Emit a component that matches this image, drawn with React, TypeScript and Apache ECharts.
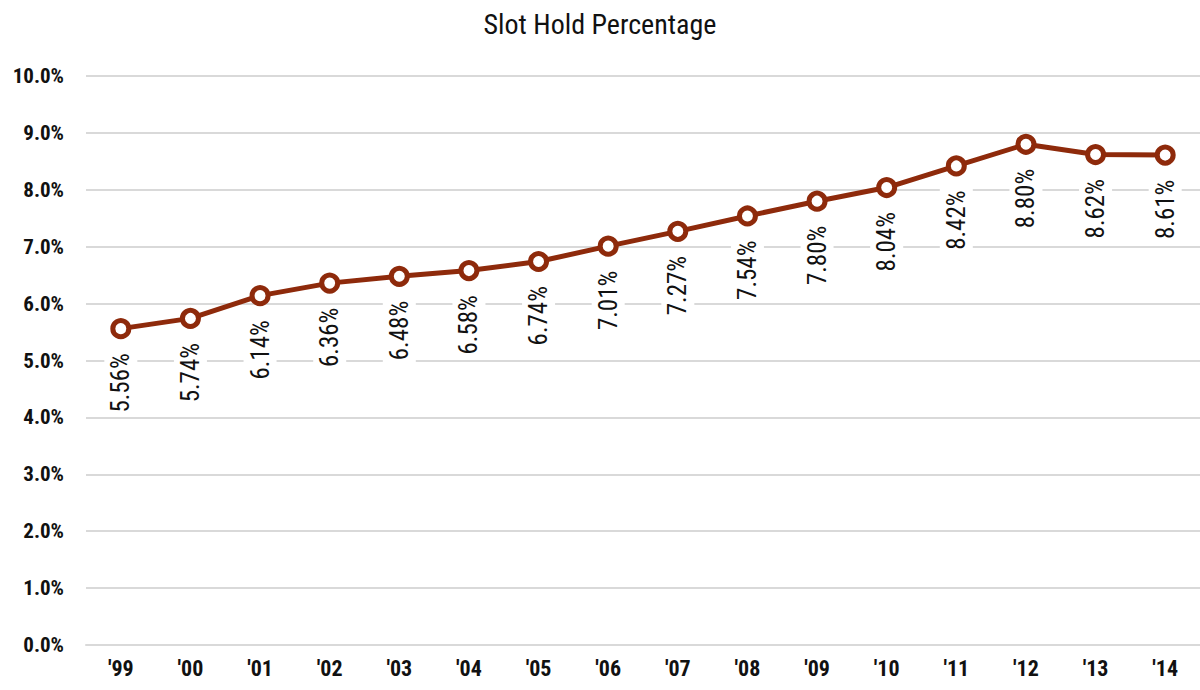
import React, { useEffect, useRef } from "react";
import * as echarts from "echarts";

const categories = ["'99", "'00", "'01", "'02", "'03", "'04", "'05", "'06", "'07", "'08", "'09", "'10", "'11", "'12", "'13", "'14"];
const holdPct = [5.56, 5.74, 6.14, 6.36, 6.48, 6.58, 6.74, 7.01, 7.27, 7.54, 7.8, 8.04, 8.42, 8.8, 8.62, 8.61];
const titleText = "Slot Hold Percentage";

const FONT = "'Liberation Sans Narrow', 'Roboto Condensed', 'Arial Narrow', Roboto, sans-serif";
const LINE_COLOR = "#8E2A0B";

export default function App() {
  const ref = useRef<HTMLDivElement>(null);
  useEffect(() => {
    document.body.style.margin = "0";
    const chart = echarts.init(ref.current!, null, { renderer: "svg" });
    chart.setOption({
      animation: false,
      backgroundColor: "#ffffff",
      title: {
        text: titleText,
        left: "center",
        top: 5,
        textStyle: { fontFamily: FONT, fontSize: 28, fontWeight: "normal", color: "#111" },
      },
      grid: { left: 86, right: 0, top: 76, bottom: 45 },
      xAxis: {
        type: "category",
        data: categories,
        boundaryGap: true,
        axisTick: { show: false },
        axisLine: { show: true, lineStyle: { color: "#d9d9d9", width: 2 } },
        axisLabel: { fontFamily: FONT, fontSize: 22, fontWeight: "bold", color: "#111", margin: 12 },
      },
      yAxis: {
        type: "value",
        min: 0,
        max: 10,
        interval: 1,
        axisLine: { show: false },
        axisTick: { show: false },
        splitLine: { lineStyle: { color: "#d9d9d9", width: 2 } },
        axisLabel: {
          fontFamily: FONT,
          fontSize: 21,
          fontWeight: "bold",
          color: "#111",
          margin: 22,
          formatter: (v: number) => v.toFixed(1) + "%",
        },
      },
      series: [
        {
          type: "line",
          data: holdPct,
          symbol: "circle",
          symbolSize: 16,
          lineStyle: { color: LINE_COLOR, width: 5 },
          itemStyle: { color: "#ffffff", borderColor: LINE_COLOR, borderWidth: 5 },
          label: {
            show: true,
            position: "bottom",
            distance: 12,
            rotate: 90,
            align: "right",
            verticalAlign: "middle",
            fontFamily: FONT,
            fontSize: 25,
            color: "#111",
            backgroundColor: "#ffffff",
            padding: [4, 2, 4, 2],
            formatter: (p: any) => p.value.toFixed(2) + "%",
          },
        },
      ],
    });
    return () => chart.dispose();
  }, []);
  return <div ref={ref} style={{ width: 1200, height: 690 }} />;
}
